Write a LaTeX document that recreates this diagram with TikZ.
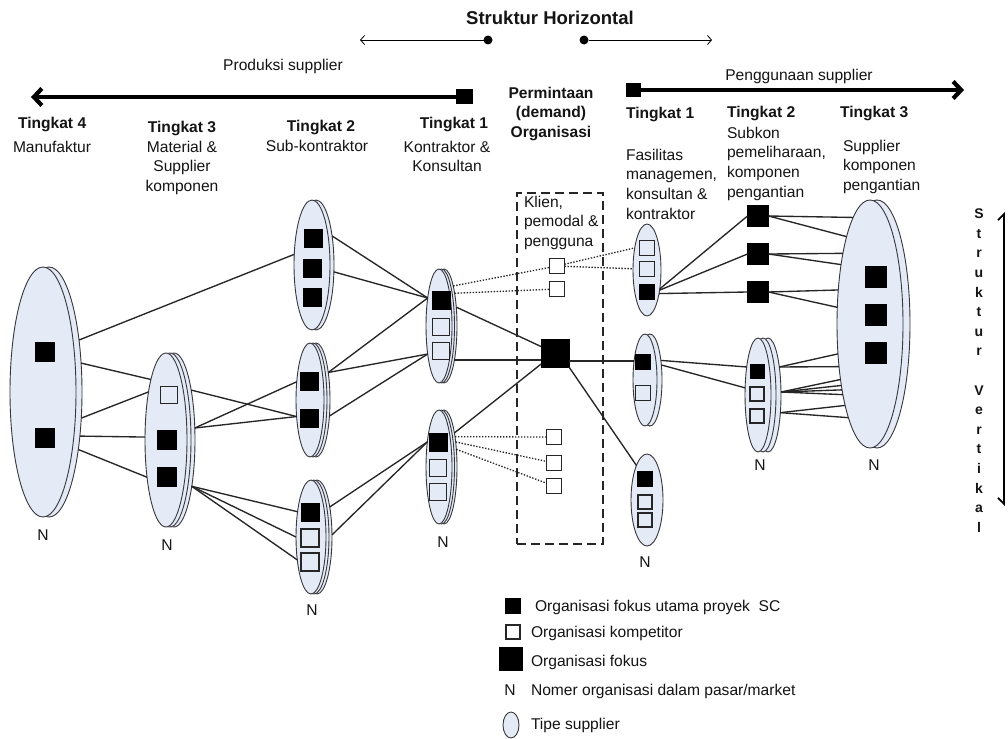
\documentclass[tikz,border=0pt]{standalone}
\usepackage{fontspec}
\setmainfont{Liberation Sans}
\usetikzlibrary{shapes.geometric,arrows.meta}

\definecolor{ellfill}{RGB}{228,234,246}
\definecolor{ellline}{RGB}{55,55,60}
\definecolor{ink}{RGB}{20,20,20}
\definecolor{wire}{RGB}{38,38,38}

% A supplier type: #6 stacked ellipses, the back ones shifted right by #7.
% Layer 1 is the front one, layer #6 the back one.
\newcommand\tierstack[7]{%
  \foreach \k in {#6,...,1}{%
    \node[tier, minimum width=2*#4, minimum height=2*#5] (#1-\k) at ({#2+(\k-1)*#7},#3) {};
  }}

\begin{document}
\begin{tikzpicture}[x=1pt,y=-1pt,
  font=\fontsize{15.6}{19.6}\selectfont,
  tier/.style={ellipse, draw=ellline, fill=ellfill, line width=0.9pt, inner sep=0pt, outer sep=0pt},
  fsq/.style={rectangle, fill=black, draw=black, line width=0.6pt, minimum size=#1, inner sep=0pt, outer sep=0pt},
  osq/.style={rectangle, draw=black!85, line width=1.1pt, minimum size=#1, inner sep=0pt, outer sep=0pt},
  link/.style={draw=wire, line width=1.35pt},
  dotlink/.style={draw=wire, line width=1.3pt, dash pattern=on 1.4pt off 1.6pt},
  txt/.style={inner sep=0pt, outer sep=0pt, text=ink},
  head/.style={txt, font=\fontsize{15.6}{19.6}\selectfont\bfseries},
  bigarrow/.style={line width=4.2pt, -{Straight Barb[length=8pt,width=17pt]}},
  thinarrow/.style={line width=0.8pt, -{Straight Barb[length=4pt,width=9pt]}},
  dot/.style={circle, fill=black, minimum size=9, inner sep=0pt, outer sep=0pt},
  endsq/.style={rectangle, fill=black, inner sep=0pt, outer sep=0pt}
]
\fill[white] (0,0) rectangle (1008,738);
\useasboundingbox (0,0) rectangle (1008,738);

% ---------- horizontal structure header ----------
\node[txt, font=\fontsize{18.5}{22}\selectfont\bfseries, anchor=base] (title) at (550,24.6) {Struktur Horizontal};
\node[dot] (hl) at (488,40) {};
\coordinate (hlend) at (360,40);
\draw[thinarrow] (hl) -- (hlend);
\node[dot] (hr) at (584,40) {};
\coordinate (hrend) at (712,40);
\draw[thinarrow] (hr) -- (hrend);

\node[txt, anchor=base] (prodlbl) at (283,70.5) {Produksi supplier};
\node[endsq, minimum width=17, minimum height=15] (pl) at (464,97) {};
\coordinate (plend) at (31,97);
\draw[bigarrow] (pl) -- (plend);

\node[txt, anchor=base] (uselbl) at (799,80.5) {Penggunaan supplier};
\node[endsq, minimum width=15, minimum height=14] (pr) at (633,90) {};
\coordinate (prend) at (964,90);
\draw[bigarrow] (pr) -- (prend);

% ---------- tier headings ----------
\node[head, anchor=base west] (h4) at (18,128.5) {Tingkat 4};
\node[txt, anchor=base west] (d4) at (13,152.5) {Manufaktur};
\node[head, anchor=base] (h3) at (182,132.5) {Tingkat 3};
\node[txt, anchor=north, align=center] (d3) at (182,141) {Material \&\\Supplier\\komponen};
\node[head, anchor=base] (h2) at (321,131.5) {Tingkat 2};
\node[txt, anchor=base] (d2) at (317,151.5) {Sub-kontraktor};
\node[head, anchor=base] (h1) at (454,128.5) {Tingkat 1};
\node[txt, anchor=north, align=center] (d1) at (447,141) {Kontraktor \&\\Konsultan};

\node[head, anchor=north, align=center] (hd) at (551,87) {Permintaan\\(demand)\\Organisasi};

\node[head, anchor=base west] (g1) at (626,118.5) {Tingkat 1};
\node[txt, anchor=north west, align=left] (e1) at (626,149) {Fasilitas\\managemen,\\konsultan \&\\kontraktor};
\node[head, anchor=base west] (g2) at (727,117.5) {Tingkat 2};
\node[txt, anchor=north west, align=left] (e2) at (727,127) {Subkon\\pemeliharaan,\\komponen\\pengantian};
\node[head, anchor=base west] (g3) at (840,117.5) {Tingkat 3};
\node[txt, anchor=north west, align=left] (e3) at (843,140) {Supplier\\komponen\\pengantian};

% ---------- vertical structure ----------
\node[txt, font=\fontsize{14}{19.6}\selectfont\bfseries, align=center, anchor=north] (vlbl) at (979,209)
  {S\\t\\r\\u\\k\\t\\u\\r\\[19.6pt]V\\e\\r\\t\\i\\k\\a\\l};
\coordinate (vtop) at (1004,212);
\coordinate (vbot) at (1004,506);
\draw[line width=1.8pt, {Straight Barb[harpoon,length=6pt,width=12pt]}-{Straight Barb[harpoon,swap,length=6pt,width=12pt]}] (vtop) -- (vbot);

% ---------- demand organisation ----------
\node[draw=black!85, line width=1.3pt, dash pattern=on 9pt off 5pt, minimum width=86, minimum height=351, inner sep=0pt] (dbox) at (560,368.5) {};
\node[txt, anchor=north west, align=left] (dtext) at (524,196) {Klien,\\pemodal \&\\pengguna};

% ---------- supplier types ----------
\tierstack{m4}{43}{392}{33}{125}{2}{6}
\tierstack{m3}{166}{440}{21}{87}{3}{4}
\tierstack{s2a}{312}{265}{18}{65}{2}{4}
\tierstack{s2b}{310}{400}{14}{57}{3}{3}
\tierstack{s2c}{311}{537}{15}{57}{3}{3}
\tierstack{k1a}{439}{326}{13}{57}{3}{2.5}
\tierstack{k1b}{439}{467}{13}{57}{3}{2.5}
\tierstack{r1a}{647}{270}{14}{46}{1}{0}
\tierstack{r1b}{645}{380}{12}{46}{2}{5}
\tierstack{r1c}{647}{500}{16}{46}{1}{0}
\tierstack{r2}{758}{395}{13}{57}{3}{5}
\tierstack{r3}{870}{324}{33}{124}{2}{7}

% ---------- organisations ----------
\node[fsq=19] (m4a) at (45,352) {};
\node[fsq=19] (m4b) at (45,438) {};
\node[osq=17] (m3a) at (169,395) {};
\node[fsq=19] (m3b) at (167,440) {};
\node[fsq=19] (m3c) at (167,477) {};
\node[fsq=18] (s2a1) at (313,238) {};
\node[fsq=18] (s2a2) at (312,268) {};
\node[fsq=18] (s2a3) at (312,297) {};
\node[fsq=18] (s2b1) at (309,381) {};
\node[fsq=18] (s2b2) at (309,418) {};
\node[fsq=18] (s2c1) at (310,512) {};
\node[osq=18] (s2c2) at (310,538) {};
\node[osq=18] (s2c3) at (310,562) {};
\node[fsq=18] (k1a1) at (441,300) {};
\node[osq=17] (k1a2) at (441,327) {};
\node[osq=17] (k1a3) at (441,351) {};
\node[fsq=18] (k1b1) at (438,442) {};
\node[osq=17] (k1b2) at (438,468) {};
\node[osq=17] (k1b3) at (438,492) {};
\node[osq=15] (c1) at (557,266) {};
\node[osq=15] (c2) at (557,289) {};
\node[osq=15] (c3) at (554,437) {};
\node[osq=15] (c4) at (554,463) {};
\node[osq=15] (c5) at (554,486) {};
\node[fsq=28] (fd) at (555,353) {};
\node[osq=15] (r1a1) at (647,248) {};
\node[osq=15] (r1a2) at (647,269) {};
\node[fsq=15] (r1a3) at (647,292) {};
\node[fsq=15] (r1b1) at (643,362) {};
\node[osq=15] (r1b2) at (643,393) {};
\node[fsq=15] (r1c1) at (645,479) {};
\node[osq=14] (r1c2) at (645,502) {};
\node[osq=14] (r1c3) at (645,520) {};
\node[fsq=21] (q1) at (758,216) {};
\node[fsq=21] (q2) at (758,254) {};
\node[fsq=21] (q3) at (758,292) {};
\node[fsq=14] (r2a) at (757,371) {};
\node[osq=14] (r2b) at (757,394) {};
\node[osq=14] (r2c) at (757,416) {};
\node[fsq=21] (r3a) at (876,277) {};
\node[fsq=21] (r3b) at (876,315) {};
\node[fsq=21] (r3c) at (876,353) {};

% ---------- market size labels ----------
\node[txt] (n4) at (43,535) {N};
\node[txt] (n3) at (167,545) {N};
\node[txt] (n2) at (312,610) {N};
\node[txt] (n1) at (443,542) {N};
\node[txt] (nr1) at (645,562) {N};
\node[txt] (nr2) at (760,465) {N};
\node[txt] (nr3) at (874,465) {N};

% ---------- production side links ----------
\draw[link] (m4-2.60.6) -- (s2a-1.149);
\draw[link] (m4-2.42) -- (m3-1.104);
\draw[link] (m4-2.-39) -- (m3-1.110);
\draw[link] (m4-2.-55.6) -- (m3-1.172);
\draw[link] (m4-2.-63) -- (m3-1.243.6);

\draw[link] (m3-3.71) -- (s2b-1.231.8);
\draw[link] (m3-3.30) -- (s2b-1.126.5);
\draw[link] (m3-3.30) -- (s2b-1.231.8);
\draw[link] (m3-3.-69.4) -- (s2c-1.118.4);
\draw[link] (m3-3.-69.4) -- (s2c-1.180);
\draw[link] (m3-3.-69.4) -- (s2c-1.239.2);

\draw[link] (s2a-2.61.9) -- (k1a-1.112);
\draw[link] (s2a-2.-21.4) -- (k1a-1.112);
\draw[link] (s2b-3.66.5) -- (k1a-1.112);
\draw[link] (s2b-3.66.5) -- (k1a-1.248.9);
\draw[link] (s2b-3.-50) -- (k1a-1.248.9);
\draw[link] (s2c-3.67.9) -- (k1b-1.115.1);
\draw[link] (s2c-3.8) -- (k1b-1.115.1);

\draw[link] (k1a-3.57.1) -- (fd);
\draw[link] (k1a-3.-73) -- (k1a-3.-73 -| fd.west);
\draw[link] (k1b-3.73) -- (fd);

\draw[dotlink] (k1a-3.77.6) -- (c1);
\draw[dotlink] (k1a-3.72.2) -- (c2);
\draw[dotlink] (c1) -- (r1a-1.119.2);
\draw[dotlink] (c1) -- (r1a-1.175);
\draw[dotlink] (k1b-3.70) -- (c3);
\draw[dotlink] (k1b-3.65) -- (c4);
\draw[dotlink] (k1b-3.55.6) -- (c5);

% ---------- usage side links ----------
\draw[link] (r1b-1.120 -| fd.east) -- (r1b-1.120);
\draw[link] (fd.south east) -- (r1c-1.107.6);

\draw[link] (r1a-1.-56) -- (q1.west);
\draw[link] (r1a-1.-58) -- (q2.west);
\draw[link] (r1a-1.-63) -- (q3.west);
\draw[link] (r1b-2.61.6) -- (r2-1.112);
\draw[link] (r1b-2.53) -- (r2-1.151.5);

\draw[link] (q1.east) -- (r3-1.99);
\draw[link] (q1.east) -- (r3-1.105);
\draw[link] (q2.east) -- (r3-1.111.7);
\draw[link] (q2.east) -- (r3-1.116.7);
\draw[link] (q3.east) -- (r3-1.133);
\draw[link] (q3.east) -- (r3-1.153.9);

\draw[link] (r2-3.68.9) -- (r3-1.223.2);
\draw[link] (r2-3.68.9) -- (r3-1.234.9);
\draw[link] (r2-3.13) -- (r3-1.242.3);
\draw[link] (r2-3.13) -- (r3-1.245.2);
\draw[link] (r2-3.13) -- (r3-1.247.9);
\draw[link] (r2-3.13) -- (r3-1.249.9);
\draw[link] (r2-3.-55.4) -- (r3-1.253.9);
\draw[link] (r2-3.-55.4) -- (r3-1.257.7);

% ---------- legend ----------
\node[fsq=15] (lgA) at (513,606) {};
\node[txt, anchor=base west] (lgAt) at (535,611) {Organisasi fokus utama proyek\ \ SC};
\node[osq=14] (lgB) at (513,632) {};
\node[txt, anchor=base west] (lgBt) at (531,637.5) {Organisasi kompetitor};
\node[fsq=23] (lgC) at (511,659) {};
\node[txt, anchor=base west] (lgCt) at (531,666) {Organisasi fokus};
\node[txt] (lgD) at (510,690) {N};
\node[txt, anchor=base west] (lgDt) at (531,695.5) {Nomer organisasi dalam pasar/market};
\node[tier, minimum width=16, minimum height=26] (lgE) at (511,725) {};
\node[txt, anchor=base west] (lgEt) at (531,729.5) {Tipe supplier};
\end{tikzpicture}
\end{document}
